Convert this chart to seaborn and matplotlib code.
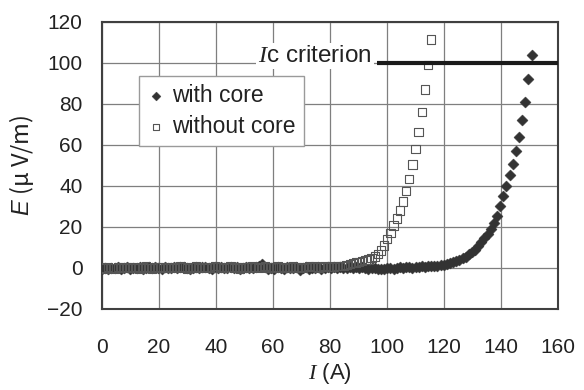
import matplotlib
matplotlib.use("Agg")
import matplotlib.pyplot as plt
import pandas as pd
import seaborn as sns

# Measurement current steps (A)
current_A = [
    0.0, 1.1, 2.2, 3.3, 4.4, 5.5, 6.6, 7.7, 8.8, 9.9,
    11.0, 12.1, 13.2, 14.3, 15.4, 16.5, 17.6, 18.7, 19.8, 20.9,
    22.0, 23.1, 24.2, 25.3, 26.4, 27.5, 28.6, 29.7, 30.8, 31.9,
    33.0, 34.1, 35.2, 36.3, 37.4, 38.5, 39.6, 40.7, 41.8, 42.9,
    44.0, 45.1, 46.2, 47.3, 48.4, 49.5, 50.6, 51.7, 52.8, 53.9,
    55.0, 56.1, 57.2, 58.3, 59.4, 60.5, 61.6, 62.7, 63.8, 64.9,
    66.0, 67.1, 68.2, 69.3, 70.4, 71.5, 72.6, 73.7, 74.8, 75.9,
    77.0, 78.1, 79.2, 80.3, 81.4, 82.5, 83.6, 84.7, 85.8, 86.9,
    88.0, 89.1, 90.2, 91.3, 92.4, 93.5, 94.6, 95.7, 96.8, 97.9,
    99.0, 100.1, 101.2, 102.3, 103.4, 104.5, 105.6, 106.7, 107.8, 108.9,
    110.0, 111.1, 112.2, 113.3, 114.4, 115.5, 116.6, 117.7, 118.8, 119.9,
    121.0, 122.1, 123.2, 124.3, 125.4, 126.5, 127.6, 128.7, 129.8, 130.9,
    132.0, 133.1, 134.2, 135.3, 136.4, 137.5, 138.6, 139.7, 140.8, 141.9,
    143.0, 144.1, 145.2, 146.3, 147.4, 148.5, 149.6, 150.7,
]

# Electric field (uV/m), sample with core
e_with_core = [
    -0.3, 0.2, -0.5, 0.1, -0.2, 0.4, -0.4, 0.0, 0.3, -0.3,
    0.2, -0.1, 0.5, -0.4, 0.1, 0.3, -0.2, 0.6, 0.0, -0.3,
    0.4, 0.1, -0.2, 0.5, -0.1, 0.3, 0.7, 0.0, -0.4, 0.2,
    0.5, -0.1, 0.3, 0.6, 0.0, -0.3, 0.4, 0.1, 0.5, -0.2,
    0.2, 0.6, -0.1, 0.3, -0.5, 0.1, 0.4, -0.2, 0.0, 0.3,
    0.8, 2.0, 0.4, -0.6, 0.2, -0.3, 0.5, 0.0, -0.7, 0.3,
    0.1, -0.2, 0.4, -0.8, 0.0, 0.3, -0.4, 0.2, -0.1, 0.5,
    -0.3, 0.1, 0.4, -0.2, 0.3, 0.0, 0.5, -0.1, 0.2, 0.4,
    0.0, 0.3, -0.2, 0.4, 0.1, -0.3, 0.2, 0.0, -0.4, -0.6,
    -0.5, -0.2, 0.1, -0.3, 0.2, 0.4, 0.1, 0.3, 0.5, 0.2,
    0.6, 0.4, 0.8, 0.6, 0.9, 1.0, 1.2, 1.1, 1.3, 1.6,
    2.0, 2.4, 2.8, 3.3, 4.0, 4.7, 5.6, 6.6, 7.8, 9.0,
    10.8, 12.6, 14.4, 16.6, 19.0, 21.8, 25.5, 30.0, 35.0, 40.0,
    45.5, 50.5, 57.0, 64.0, 72.0, 81.0, 92.0, 104.0,
]

# Electric field (uV/m), sample without core
e_without_core = [
    0.3, -0.2, 0.4, 0.1, -0.3, 0.5, 0.2, -0.1, 0.6, 0.3,
    0.0, 0.4, -0.2, 0.3, 0.7, 0.1, -0.3, 0.4, 0.2, 0.5,
    -0.1, 0.3, 0.6, 0.0, 0.4, 0.8, 0.2, -0.2, 0.5, 0.3,
    0.7, 0.1, 0.4, -0.1, 0.6, 0.3, 0.9, 0.2, 0.5, 0.0,
    0.4, 0.7, 0.1, 0.5, -0.2, 0.3, 0.6, 0.2, 0.8, 0.4,
    0.1, 0.5, 1.0, 0.3, 0.6, 0.2, 0.7, 0.4, -0.1, 0.5,
    0.3, 0.8, 0.2, 0.6, 0.1, 0.5, 0.9, 0.4, 0.7, 0.3,
    0.6, 1.0, 0.5, 0.8, 0.6, 1.1, 0.9, 1.0, 1.6, 1.9,
    2.3, 2.7, 3.0, 3.4, 3.8, 4.2, 4.8, 5.6, 6.8, 8.6,
    11.0, 14.0, 17.2, 20.8, 24.2, 28.0, 32.5, 37.5, 43.5, 50.5,
    58.0, 66.5, 76.0, 87.0, 99.0, 111.5,
]

series_labels = ["with core", "without core"]
criterion_E = 100
criterion_from_A = 96.5
criterion_text = r"$\mathit{I}$c criterion"
x_ticks = [0, 20, 40, 60, 80, 100, 120, 140, 160]
y_ticks = [-20, 0, 20, 40, 60, 80, 100, 120]
x_label = r"$\mathit{I}$ (A)"
y_label = r"$\mathsf{E}$ (μ V/m)"

sns.set_theme(style="whitegrid")
plt.rcParams.update({
    "font.family": ["Liberation Sans", "DejaVu Sans"],
    "mathtext.fontset": "custom",
    "mathtext.it": "Liberation Serif:italic",
    "mathtext.sf": "Liberation Sans:italic",
    "mathtext.rm": "Liberation Sans",
    "axes.unicode_minus": True,
})

fig = plt.figure(figsize=(5.84, 3.90), dpi=100)
ax = fig.add_axes([0.1747, 0.2077, 0.7808, 0.7359])

with_df = pd.DataFrame({"I": current_A[:len(e_with_core)], "E": e_with_core})
without_df = pd.DataFrame({"I": current_A[:len(e_without_core)], "E": e_without_core})

sns.scatterplot(data=with_df, x="I", y="E", ax=ax, marker="D", s=32,
                color="#333333", edgecolor="#333333", linewidth=0.3,
                label=series_labels[0], zorder=3)
sns.scatterplot(data=without_df, x="I", y="E", ax=ax, marker="s", s=36,
                color="#555555", facecolor="none", edgecolor="#555555",
                linewidth=0.8, label=series_labels[1], zorder=4)

# Critical-current criterion line with its label
ax.plot([criterion_from_A, x_ticks[-1]], [criterion_E, criterion_E],
        color="#1a1a1a", lw=3, solid_capstyle="butt", zorder=5, clip_on=False)
ax.text(criterion_from_A - 1.8, criterion_E + 3.3, criterion_text,
        ha="right", va="center", fontsize=17.5, color="#222222",
        bbox=dict(facecolor="white", edgecolor="none", pad=1.5), zorder=2.5)

ax.set_xlim(x_ticks[0], x_ticks[-1])
ax.set_ylim(y_ticks[0], y_ticks[-1])
ax.set_xticks(x_ticks)
ax.set_yticks(y_ticks)
ax.tick_params(axis="both", length=0, labelsize=15, colors="#222222")
ax.tick_params(axis="x", pad=21)
ax.tick_params(axis="y", pad=14)

ax.grid(True, color="#7f7f7f", linewidth=0.9)
ax.set_axisbelow(True)
for side in ax.spines.values():
    side.set_visible(True)
    side.set_color("#404040")
    side.set_linewidth(1.5)

ax.set_xlabel(x_label, fontsize=16, color="#222222", labelpad=3)
ax.set_ylabel(y_label, fontsize=17, color="#222222", labelpad=8,
              family=["Noto Sans CJK JP", "DejaVu Sans"])

leg = ax.legend(loc="upper left", bbox_to_anchor=(0.081, 0.812),
                borderaxespad=0, frameon=True, fancybox=False,
                framealpha=1, edgecolor="#9a9a9a", fontsize=16.5,
                markerscale=0.8, handlelength=0.8, handletextpad=0.3,
                borderpad=0.35, labelspacing=0.35)
leg.get_frame().set_linewidth(1.0)
for t in leg.get_texts():
    t.set_color("#222222")

fig.savefig("out.png", dpi=100, facecolor="white")
